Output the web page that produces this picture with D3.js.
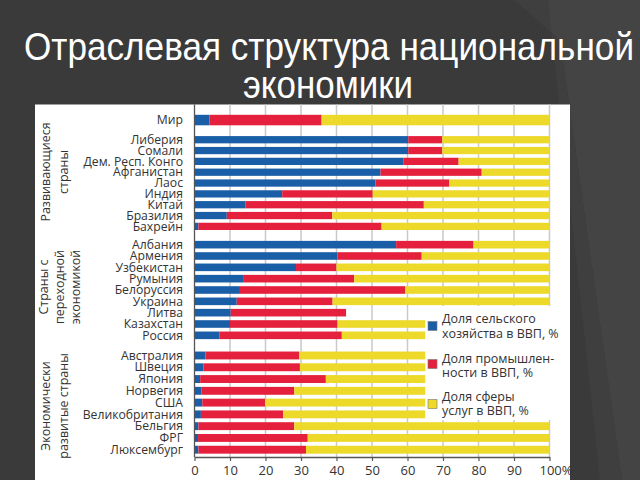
<!DOCTYPE html>
<html><head><meta charset="utf-8">
<script src="https://cdn.jsdelivr.net/npm/d3@7"></script>
<style>html,body{margin:0;padding:0;background:#3a3a3a;overflow:hidden}</style>
</head><body>
<script>
// ---- data ----
const worldRow = ["Мир"];
const developing = ["Либерия","Сомали","Дем. Респ. Конго","Афганистан","Лаос","Индия","Китай","Бразилия","Бахрейн"];
const transition = ["Албания","Армения","Узбекистан","Румыния","Белоруссия","Украина","Литва","Казахстан","Россия"];
const developed = ["Австралия","Швеция","Япония","Норвегия","США","Великобритания","Бельгия","ФРГ","Люксембург"];

// share of agriculture (blue), industry (red), services (yellow), % of GDP, in row order
const agriculture = [4.2,
  60.2,60.2,58.8,52.4,51.0,24.7,14.4,9.1,1.1,
  56.8,40.3,28.6,13.9,12.8,11.9,10.2,10.0,7.0,
  3.1,2.5,1.6,2.0,2.2,1.8,1.1,1.0,1.1];
const industry = [31.6,
  9.6,9.6,15.6,28.5,20.8,25.5,50.2,29.7,51.6,
  21.8,23.7,11.4,31.1,46.6,27.0,32.5,30.3,34.5,
  26.4,27.2,35.4,26.1,17.7,23.2,27.0,30.9,30.3];
const services = [64.2,
  30.2,30.2,25.6,19.1,28.2,49.8,35.4,61.2,47.3,
  21.4,36.0,60.0,55.0,40.6,61.1,null,59.7,58.5,
  70.5,70.3,63.0,71.9,80.1,75.0,71.9,68.1,68.6];

const tickValues = [0,10,20,30,40,50,60,70,80,90,100];
const groupLabels = [["Развивающиеся","страны"],["Страны с","переходной","экономикой"],["Экономически","развитые страны"]];
const legendLabels = [["Доля сельского","хозяйства в ВВП, %"],["Доля промышлен-","ности в ВВП, %"],["Доля сферы","услуг в ВВП, %"]];
const keys = ["agriculture","industry","services"];
const colors = ["#1b5ea8","#e5203d","#ecd92a"];

const allCountries = worldRow.concat(developing, transition, developed);
const rows = allCountries.map((c,i)=>({country:c, agriculture:agriculture[i], industry:industry[i], services:services[i]}));

// ---- layout ----
const W=640,H=480;
const svg = d3.select("body").append("svg").attr("width",W).attr("height",H);
svg.append("rect").attr("width",W).attr("height",H).attr("fill","#3a3a3a");
svg.append("polygon").attr("points","515,0 640,0 640,480 622,480 560,40").attr("fill","#444444");
svg.append("polygon").attr("points","560,40 622,480 600,480 548,0 515,0").attr("fill","#3f3f3f");

const titleFont = "'Liberation Sans', Arial, sans-serif";
svg.append("g").attr("transform","translate(329,60) scale(0.925,1)")
  .append("text").attr("x",0).attr("y",0).attr("text-anchor","middle")
  .attr("font-family",titleFont).attr("font-size",38).attr("fill","#ffffff")
  .text("Отраслевая структура национальной");
svg.append("g").attr("transform","translate(328,98) scale(0.92,1)")
  .append("text").attr("x",0).attr("y",0).attr("text-anchor","middle")
  .attr("font-family",titleFont).attr("font-size",38).attr("fill","#ffffff")
  .text("экономики");

const panelTop = 104.5, axisY = 457;
svg.append("rect").attr("x",35).attr("y",panelTop).attr("width",535).attr("height",H-panelTop).attr("fill","#ffffff");

const x = d3.scaleLinear().domain([0,100]).range([194.5,549.5]);
const yWorld = d3.scaleBand().domain(worldRow).range([114.8,125.3]).padding(0);
const yDev = d3.scaleBand().domain(developing).range([134.3,231.8]).paddingInner(0.33).paddingOuter(0.165);
const yTr = d3.scaleBand().domain(transition).range([239.0,341.0]).paddingInner(0.33).paddingOuter(0.165);
const yDvd = d3.scaleBand().domain(developed).range([349.6,455.6]).paddingInner(0.33).paddingOuter(0.165);
function yScaleOf(c){
  if (worldRow.includes(c)) return yWorld;
  if (developing.includes(c)) return yDev;
  if (transition.includes(c)) return yTr;
  return yDvd;
}

const font = "'Open Sans', 'Noto Sans', sans-serif";

// gridlines
svg.append("g").selectAll("line").data(tickValues.filter(d=>d>0)).join("line")
  .attr("x1",d=>x(d)).attr("x2",d=>x(d)).attr("y1",panelTop).attr("y2",axisY)
  .attr("stroke","#c9c9c9").attr("stroke-width",1.5);

// stacked bars
const stack = d3.stack().keys(keys).value((d,k)=> d[k]==null ? 0 : d[k]);
const series = stack(rows);
series.forEach((s,si)=>{
  svg.append("g").selectAll("rect").data(s.filter(p=>p.data[keys[si]]!=null)).join("rect")
    .attr("x",p=>x(p[0])).attr("width",p=>x(p[1])-x(p[0]))
    .attr("y",p=>yScaleOf(p.data.country)(p.data.country))
    .attr("height",p=>yScaleOf(p.data.country).bandwidth())
    .attr("fill",colors[si]);
});

// legend box (covers part of the bars)
svg.append("rect").attr("x",x(65)).attr("y",306).attr("width",570-x(65)).attr("height",114).attr("fill","#ffffff");
const legendY = [[318,333],[358,372],[396,410]];
const swatchY = [326,364,404];
legendLabels.forEach((lines,i)=>{
  svg.append("rect").attr("x",428).attr("y",swatchY[i]-4.5).attr("width",9).attr("height",9)
    .attr("fill",colors[i]).attr("stroke","#777").attr("stroke-width",0.6);
  lines.forEach((t,j)=>{
    svg.append("text").attr("x",442).attr("y",legendY[i][j]+4.5)
      .attr("font-family",font).attr("font-size",12.5).attr("fill","#333").text(t);
  });
});

// y axis line
svg.append("line").attr("x1",x(0)).attr("x2",x(0)).attr("y1",panelTop).attr("y2",axisY)
  .attr("stroke","#555").attr("stroke-width",1.3);

// x axis
const ax = svg.append("g").attr("transform",`translate(0,${axisY})`)
  .call(d3.axisBottom(x).tickValues(tickValues).tickSize(4).tickSizeOuter(0).tickPadding(5)
    .tickFormat(d=> d===100 ? "100%" : d));
ax.select(".domain").attr("stroke","#555").attr("stroke-width",1.3);
ax.selectAll(".tick line").attr("stroke","#555").attr("stroke-width",1.2);
ax.selectAll(".tick text").attr("font-family",font).attr("font-size",13).attr("fill","#333");
ax.selectAll(".tick text").filter(d=>d===100).attr("text-anchor","start").attr("dx",-10.5);

// country labels
svg.append("g").selectAll("text").data(allCountries).join("text")
  .attr("x",183).attr("y",c=>yScaleOf(c)(c)+yScaleOf(c).bandwidth()/2+4.2)
  .attr("text-anchor","end").attr("font-family",font).attr("font-size",12.2).attr("fill","#333")
  .text(c=>c);

// group labels (rotated)
const groupCenters = [172,287,406];
const groupCols = [[45,63],[43,59,75],[45,63]];
groupLabels.forEach((lines,i)=>{
  lines.forEach((t,j)=>{
    svg.append("text").attr("transform",`translate(${groupCols[i][j]+4.5},${groupCenters[i]}) rotate(-90)`)
      .attr("text-anchor","middle").attr("font-family",font).attr("font-size",12.5).attr("fill","#333").text(t);
  });
});
</script>
</body></html>
